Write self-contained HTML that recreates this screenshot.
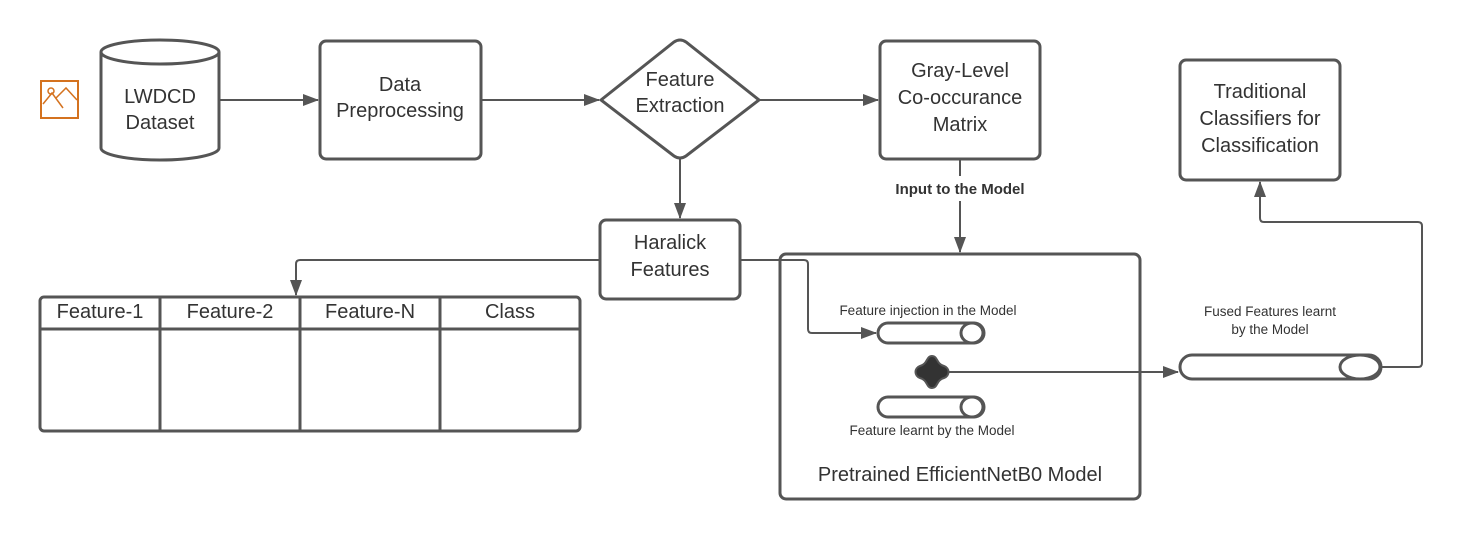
<!DOCTYPE html>
<html><head><meta charset="utf-8"><style>
html,body{margin:0;padding:0;background:#fff;}
svg{display:block;font-family:"Liberation Sans",sans-serif;}
</style></head><body>
<svg width="1463" height="540" viewBox="0 0 1463 540" xmlns="http://www.w3.org/2000/svg">
<defs>
<marker id="a" markerWidth="16" markerHeight="12" refX="15" refY="6" orient="auto" markerUnits="userSpaceOnUse">
<path d="M0,0 L16,6 L0,12 Z" fill="#555"/></marker>
</defs>
<g fill="none" stroke="#555" stroke-width="3">
<rect x="41" y="81" width="37" height="37" stroke="#d4721f" stroke-width="2"/>
<path d="M43,104 L52,93 L63,108 M56,98 L66,88 L77,100" stroke="#d4721f" stroke-width="1.5"/>
<circle cx="51" cy="91" r="3" stroke="#d4721f" stroke-width="1.5"/>
<path d="M101,52 L101,148 A59,12 0 0 0 219,148 L219,52"/>
<ellipse cx="160" cy="52" rx="59" ry="12"/>
<rect x="320" y="41" width="161" height="118" rx="6"/>
<path d="M601,100 L674,42 Q680,38 686,42 L759,100 L686,156 Q680,160 674,156 Z"/>
<rect x="880" y="41" width="160" height="118" rx="6"/>
<rect x="1180" y="60" width="160" height="120" rx="6"/>
<rect x="600" y="220" width="140" height="79" rx="6"/>
<rect x="780" y="254" width="360" height="245" rx="6"/>
<rect x="40" y="297" width="540" height="134" rx="4"/>
<line x1="40" y1="329" x2="580" y2="329"/>
<line x1="160" y1="297" x2="160" y2="431"/>
<line x1="300" y1="297" x2="300" y2="431"/>
<line x1="440" y1="297" x2="440" y2="431"/>
<rect x="878" y="323" width="106" height="20" rx="10"/>
<ellipse cx="972" cy="333" rx="11" ry="10"/>
<rect x="878" y="397" width="106" height="20" rx="10"/>
<ellipse cx="972" cy="407" rx="11" ry="10"/>
<rect x="1180" y="355" width="201" height="24" rx="12"/>
<ellipse cx="1360" cy="367" rx="20" ry="12"/>
</g>
<g fill="none" stroke="#555" stroke-width="2">
<line x1="220" y1="100" x2="318" y2="100" marker-end="url(#a)"/>
<line x1="481" y1="100" x2="599" y2="100" marker-end="url(#a)"/>
<line x1="759" y1="100" x2="878" y2="100" marker-end="url(#a)"/>
<line x1="680" y1="159" x2="680" y2="218" marker-end="url(#a)"/>
<line x1="960" y1="160" x2="960" y2="176"/>
<line x1="960" y1="201" x2="960" y2="252" marker-end="url(#a)"/>
<path d="M600,260 L300,260 Q296,260 296,264 L296,295" marker-end="url(#a)"/>
<path d="M740,260 L804,260 Q808,260 808,264 L808,329 Q808,333 812,333 L876,333" marker-end="url(#a)"/>
<line x1="944" y1="372" x2="1178" y2="372" marker-end="url(#a)"/>
<path d="M1381,367 L1418,367 Q1422,367 1422,363 L1422,226 Q1422,222 1418,222 L1264,222 Q1260,222 1260,218 L1260,182" marker-end="url(#a)"/>
</g>
<path d="M932,356 C938,356 936,364 944,366 C950,368 950,376 944,378 C936,380 938,388 932,388 C926,388 928,380 920,378 C914,376 914,368 920,366 C928,364 926,356 932,356 Z" fill="#333" stroke="#555" stroke-width="2"/>
<g fill="#333" font-size="20" text-anchor="middle">
<text x="160" y="103">LWDCD</text><text x="160" y="129">Dataset</text>
<text x="400" y="91">Data</text><text x="400" y="117">Preprocessing</text>
<text x="680" y="86">Feature</text><text x="680" y="112">Extraction</text>
<text x="960" y="77">Gray-Level</text><text x="960" y="104">Co-occurance</text><text x="960" y="131">Matrix</text>
<text x="1260" y="98">Traditional</text><text x="1260" y="125">Classifiers for</text><text x="1260" y="152">Classification</text>
<text x="670" y="249">Haralick</text><text x="670" y="276">Features</text>
<text x="100" y="318">Feature-1</text><text x="230" y="318">Feature-2</text><text x="370" y="318">Feature-N</text><text x="510" y="318">Class</text>
<text x="960" y="481">Pretrained EfficientNetB0 Model</text>
</g>
<g fill="#333" font-size="13.5" text-anchor="middle">
<text x="928" y="315">Feature injection in the Model</text>
<text x="932" y="435">Feature learnt by the Model</text>
<text x="1270" y="316">Fused Features learnt</text>
<text x="1270" y="334">by the Model</text>
</g>
<text x="960" y="194" fill="#333" font-size="15" font-weight="bold" text-anchor="middle">Input to the Model</text>
</svg>
</body></html>
